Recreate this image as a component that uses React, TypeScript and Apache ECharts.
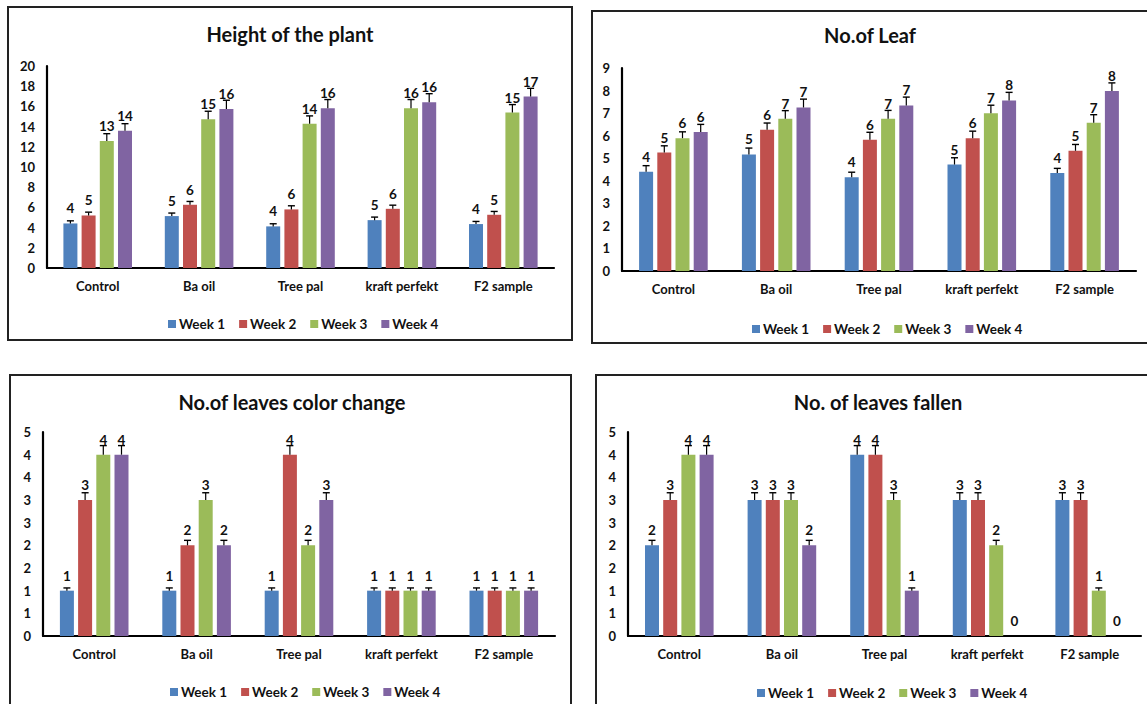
import React, { useEffect, useRef } from "react";
import * as echarts from "echarts";

const categories = ["Control", "Ba oil", "Tree pal", "kraft perfekt", "F2 sample"];
const weeks = ["Week 1", "Week 2", "Week 3", "Week 4"];
const colors = ["#4F81BD", "#C0504D", "#9BBB59", "#8064A2"];

// Height of the plant
const heightW1 = [4.41, 5.14, 4.12, 4.74, 4.35];
const heightW2 = [5.2, 6.26, 5.8, 5.86, 5.27];
const heightW3 = [12.58, 14.73, 14.27, 15.82, 15.39];
const heightW4 = [13.6, 15.75, 15.82, 16.4, 16.97];
const heightErrW1 = [0.26, 0.3, 0.26, 0.3, 0.26];
const heightErrW2 = [0.33, 0.33, 0.36, 0.36, 0.33];
const heightErrW3 = [0.72, 0.79, 0.79, 0.86, 0.79];
const heightErrW4 = [0.69, 0.86, 0.86, 0.86, 0.82];

// No.of Leaf
const leafW1 = [4.4, 5.17, 4.16, 4.72, 4.34];
const leafW2 = [5.25, 6.26, 5.82, 5.89, 5.33];
const leafW3 = [5.89, 6.75, 6.75, 6.99, 6.57];
const leafW4 = [6.16, 7.25, 7.34, 7.56, 7.98];
const leafErrW1 = [0.27, 0.28, 0.22, 0.3, 0.21];
const leafErrW2 = [0.3, 0.3, 0.33, 0.31, 0.28];
const leafErrW3 = [0.28, 0.36, 0.37, 0.36, 0.36];
const leafErrW4 = [0.34, 0.37, 0.37, 0.36, 0.36];

// No.of leaves color change
const colorW1 = [1, 1, 1, 1, 1];
const colorW2 = [3, 2, 4, 1, 1];
const colorW3 = [4, 3, 2, 1, 1];
const colorW4 = [4, 2, 3, 1, 1];
const colorErrW1 = [0.06, 0.06, 0.06, 0.06, 0.06];
const colorErrW2 = [0.16, 0.11, 0.2, 0.06, 0.06];
const colorErrW3 = [0.2, 0.16, 0.11, 0.06, 0.06];
const colorErrW4 = [0.2, 0.11, 0.16, 0.06, 0.06];

// No. of leaves fallen
const fallenW1 = [2, 3, 4, 3, 3];
const fallenW2 = [3, 3, 4, 3, 3];
const fallenW3 = [4, 3, 3, 2, 1];
const fallenW4 = [4, 2, 1, 0, 0];
const fallenErrW1 = [0.11, 0.16, 0.2, 0.16, 0.16];
const fallenErrW2 = [0.16, 0.16, 0.2, 0.16, 0.16];
const fallenErrW3 = [0.2, 0.16, 0.16, 0.11, 0.06];
const fallenErrW4 = [0.2, 0.11, 0.06, 0, 0];

const FONT = "Lato";

const panels = [
  {
    title: "Height of the plant",
    grid: { left: 47, top: 66, width: 507, height: 202 },
    yMax: 20, yInt: 2, roundAxis: false,
    values: [heightW1, heightW2, heightW3, heightW4],
    errs: [heightErrW1, heightErrW2, heightErrW3, heightErrW4],
    titleX: 290, titleY: 34, legendLeft: 163, legendTop: 312,
    border: { x: 8, y: 7, w: 564, h: 333 },
  },
  {
    title: "No.of Leaf",
    grid: { left: 622, top: 68, width: 514, height: 203 },
    yMax: 9, yInt: 1, roundAxis: false,
    values: [leafW1, leafW2, leafW3, leafW4],
    errs: [leafErrW1, leafErrW2, leafErrW3, leafErrW4],
    titleX: 870, titleY: 35, legendLeft: 747, legendTop: 317,
    border: { x: 592, y: 11, w: 580, h: 332 },
  },
  {
    title: "No.of leaves color change",
    grid: { left: 43, top: 432, width: 512, height: 204 },
    yMax: 4.5, yInt: 0.5, roundAxis: true,
    values: [colorW1, colorW2, colorW3, colorW4],
    errs: [colorErrW1, colorErrW2, colorErrW3, colorErrW4],
    titleX: 292, titleY: 402, legendLeft: 165, legendTop: 680,
    border: { x: 10, y: 375, w: 561, h: 345 },
  },
  {
    title: "No. of leaves fallen",
    grid: { left: 628, top: 432, width: 513, height: 204 },
    yMax: 4.5, yInt: 0.5, roundAxis: true,
    values: [fallenW1, fallenW2, fallenW3, fallenW4],
    errs: [fallenErrW1, fallenErrW2, fallenErrW3, fallenErrW4],
    titleX: 878, titleY: 402, legendLeft: 752, legendTop: 681,
    border: { x: 596, y: 375, w: 580, h: 345 },
  },
];

const BAR_W = 14;
const BAR_STEP = 14 * 1.3;

function buildOption() {
  const grid: any[] = [];
  const xAxis: any[] = [];
  const yAxis: any[] = [];
  const series: any[] = [];
  const legend: any[] = [];
  const graphic: any[] = [];

  panels.forEach((p, pi) => {
    grid.push({ ...p.grid, containLabel: false });
    xAxis.push({
      type: "category",
      gridIndex: pi,
      data: categories,
      axisLine: { show: true, lineStyle: { color: "#000", width: 2.2 } },
      axisTick: { show: false },
      axisLabel: { fontFamily: FONT, fontWeight: "bold", fontSize: 13, color: "#111", margin: 11, interval: 0 },
      splitLine: { show: false },
    });
    yAxis.push({
      type: "value",
      gridIndex: pi,
      min: 0,
      max: p.yMax,
      interval: p.yInt,
      axisLine: { show: true, lineStyle: { color: "#000", width: 2.2 } },
      axisTick: { show: false },
      splitLine: { show: false },
      axisLabel: {
        fontFamily: FONT, fontWeight: "bold", fontSize: 13, color: "#111", margin: 12,
        formatter: (v: number) => (p.roundAxis ? String(Math.round(v)) : String(v)),
      },
    });
    p.values.forEach((vals, wi) => {
      series.push({
        type: "bar",
        name: weeks[wi],
        xAxisIndex: pi,
        yAxisIndex: pi,
        data: vals,
        barWidth: BAR_W,
        barGap: "30%",
        itemStyle: { color: colors[wi] },
        label: {
          show: true,
          position: "top",
          distance: 8,
          fontFamily: FONT,
          fontWeight: "bold",
          fontSize: 13.5,
          color: "#111",
          formatter: (pr: any) => String(Math.round(pr.value)),
        },
      });
    });
    const errData: any[] = [];
    p.values.forEach((vals, wi) => {
      vals.forEach((v, ci) => errData.push([ci, v, p.errs[wi][ci], wi]));
    });
    series.push({
      type: "custom",
      name: "error" + pi,
      xAxisIndex: pi,
      yAxisIndex: pi,
      clip: false,
      z: 5,
      silent: true,
      encode: { x: 0, y: 1 },
      data: errData,
      renderItem: (params: any, api: any) => {
        const ci = api.value(0);
        const v = api.value(1);
        const e = api.value(2);
        const wi = api.value(3);
        if (!e) return { type: "group", children: [] };
        const p0 = api.coord([ci, v]);
        const p1 = api.coord([ci, v + e]);
        const x = p0[0] + (wi - 1.5) * BAR_STEP;
        return {
          type: "group",
          children: [
            { type: "line", shape: { x1: x, y1: p0[1], x2: x, y2: p1[1] }, style: { stroke: "#000", lineWidth: 1.2 } },
            { type: "line", shape: { x1: x - 3.5, y1: p1[1], x2: x + 3.5, y2: p1[1] }, style: { stroke: "#000", lineWidth: 1.4 } },
          ],
        };
      },
    });
    legend.push({
      left: p.legendLeft,
      top: p.legendTop,
      orient: "horizontal",
      itemWidth: 8,
      itemHeight: 8,
      itemGap: 14,
      icon: "rect",
      data: weeks,
      textStyle: { fontFamily: FONT, fontWeight: "bold", fontSize: 13.5, color: "#111", padding: [0, 0, 0, -2] },
    });
    graphic.push({
      type: "rect",
      shape: { x: p.border.x, y: p.border.y, width: p.border.w, height: p.border.h },
      style: { fill: "none", stroke: "#222", lineWidth: 2 },
      silent: true,
    });
    graphic.push({
      type: "text",
      x: p.titleX,
      y: p.titleY,
      style: {
        text: p.title,
        font: `bold 20px ${FONT}`,
        fill: "#111",
        textAlign: "center",
        textVerticalAlign: "middle",
      },
      silent: true,
    });
  });

  return {
    animation: false,
    backgroundColor: "#fff",
    grid,
    xAxis,
    yAxis,
    series,
    legend,
    graphic,
  };
}

export default function App() {
  const ref = useRef<HTMLDivElement>(null);
  useEffect(() => {
    if (!ref.current) return;
    const chart = echarts.init(ref.current, undefined, { renderer: "svg" });
    chart.setOption(buildOption() as any);
    return () => chart.dispose();
  }, []);
  return (
    <div
      ref={ref}
      style={{ position: "fixed", left: 0, top: 0, width: 1147, height: 704, background: "#fff" }}
    />
  );
}
